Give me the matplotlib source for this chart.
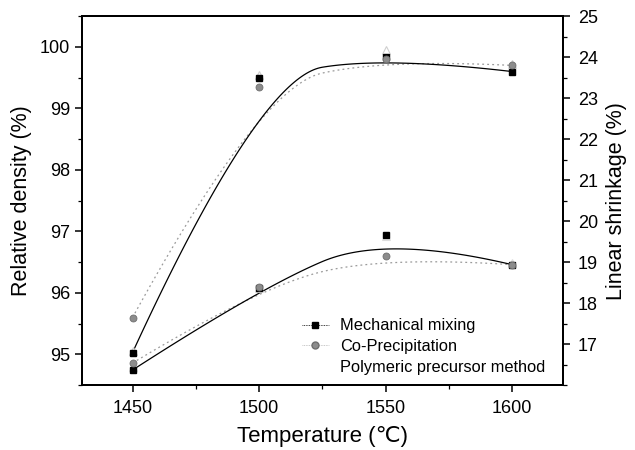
import numpy as np
import matplotlib
matplotlib.use("Agg")
from matplotlib import pyplot as plt
from matplotlib.ticker import MultipleLocator

plt.rcParams['font.family'] = ['Liberation Sans', 'DejaVu Sans']

temps = [1450, 1500, 1550, 1600]

# relative density (%) -> left axis
dens_mech = [95.03, 99.50, 99.84, 99.60]
dens_copr = [95.60, 99.35, 99.80, 99.70]
dens_poly = [95.05, 99.55, 99.95, 99.72]

# linear shrinkage (%) -> right axis
shr_mech = [16.37, 18.36, 19.67, 18.94]
shr_copr = [16.54, 18.40, 19.14, 18.94]
shr_poly = [16.45, 18.38, 19.65, 18.98]


def bspline2(xs, ys, n=60):
    # quadratic clamped b-spline on the data points (like Origin's B-Spline line)
    p = np.column_stack([xs, ys]).astype(float)
    k = len(p)
    segs = []
    for i in range(k - 2):
        a = p[i] if i == 0 else 0.5 * (p[i] + p[i + 1])
        b = p[i + 1]
        c = p[i + 2] if i == k - 3 else 0.5 * (p[i + 1] + p[i + 2])
        s = np.linspace(0, 1, n)[:, None]
        segs.append((1 - s) ** 2 * a + 2 * s * (1 - s) * b + s ** 2 * c)
    pts = np.vstack(segs)
    return pts[:, 0], pts[:, 1]


fig = plt.figure(figsize=(6.35, 4.5), dpi=100)
ax = fig.add_axes([0.129, 0.144, 0.757, 0.820])
ax2 = ax.twinx()

mech_kw = dict(color='black', lw=0.9)
copr_kw = dict(color='#9a9a9a', lw=0.9, ls=(0, (1.5, 2.5)))

# density curves
x, y = bspline2(temps, dens_copr)
ax.plot(x, y, **copr_kw)
x, y = bspline2(temps, dens_mech)
ax.plot(x, y, **mech_kw)
ax.plot(temps, dens_poly, ls='none', marker='^', ms=6, mfc='white', mec='#cfcfcf', mew=0.8)
ax.plot(temps, dens_mech, ls='none', marker='s', ms=5, color='black')
ax.plot(temps, dens_copr, ls='none', marker='o', ms=5, mfc='#8c8c8c', mec='#6e6e6e', mew=0.6)

# shrinkage curves
x, y = bspline2(temps, shr_copr)
ax2.plot(x, y, **copr_kw)
x, y = bspline2(temps, shr_mech)
ax2.plot(x, y, **mech_kw)
ax2.plot(temps, shr_poly, ls='none', marker='^', ms=6, mfc='white', mec='#dddddd', mew=0.8)
ax2.plot(temps, shr_mech, ls='none', marker='s', ms=5, color='black')
ax2.plot(temps, shr_copr, ls='none', marker='o', ms=5, mfc='#8c8c8c', mec='#6e6e6e', mew=0.6)

ax.set_xlim(1430, 1620)
ax.set_ylim(94.5, 100.5)
ax2.set_ylim(16, 25)

ax.xaxis.set_major_locator(MultipleLocator(50))
ax.xaxis.set_minor_locator(MultipleLocator(25))
ax.yaxis.set_major_locator(MultipleLocator(1))
ax.yaxis.set_minor_locator(MultipleLocator(0.5))
ax2.yaxis.set_minor_locator(MultipleLocator(0.5))
ax2.set_yticks(np.arange(17, 26, 1))

for a in (ax, ax2):
    for sp in a.spines.values():
        sp.set_linewidth(1.4)
    a.tick_params(which='major', direction='out', length=5, width=1.1, labelsize=13)
    a.tick_params(which='minor', direction='out', length=3, width=0.9)
ax.tick_params(top=False, which='both')
ax.tick_params(axis='x', which='major', pad=6)
ax2.tick_params(axis='y', which='major', pad=6)

ax.set_xlabel('Temperature (℃)', fontsize=16, labelpad=6)
ax.set_ylabel('Relative density (%)', fontsize=15.5, labelpad=6)
ax2.set_ylabel('Linear shrinkage (%)', fontsize=15.5, labelpad=6)

# legend
h1, = ax.plot([], [], marker='s', ms=5, color='black', lw=0.6, ls=(0, (1, 1)))
h2, = ax.plot([], [], marker='o', ms=5, mfc='#8c8c8c', mec='#6e6e6e', color='#b5b5b5', lw=0.6, ls=(0, (1, 1)))
h3, = ax.plot([], [], ls='none', marker='^', ms=6, mfc='white', mec='white')
ax.legend([h1, h2, h3], ['Mechanical mixing', 'Co-Precipitation', 'Polymeric precursor method'],
          loc='lower left', bbox_to_anchor=(0.445, 0.01), frameon=False, fontsize=11.8,
          handlelength=1.6, handletextpad=0.7, labelspacing=0.35, borderaxespad=0.0)

fig.savefig('out.png', dpi=100)
